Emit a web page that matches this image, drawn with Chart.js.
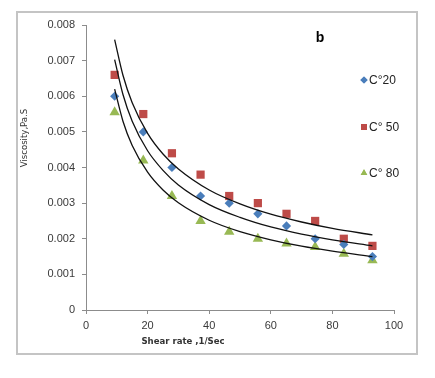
<!DOCTYPE html>
<html>
<head>
<meta charset="utf-8">
<script src="https://cdn.jsdelivr.net/npm/chart.js@4.4.1/dist/chart.umd.min.js"></script>
<style>
  html, body { margin: 0; padding: 0; background: #fff; }
  #wrap { position: relative; width: 435px; height: 378px; }
  #frame { position: absolute; left: 16px; top: 11px; width: 398px; height: 340px; border: 2px solid #c4c4c4; }
  canvas { position: absolute; left: 0; top: 0; }
</style>
</head>
<body>
<div id="wrap">
  <div id="frame"></div>
  <canvas id="chart" width="435" height="378"></canvas>
</div>
<script>
// shear rate (1/s)
const shearRate = [9.3, 18.6, 27.9, 37.2, 46.5, 55.8, 65.1, 74.4, 83.7, 93.0];

// measured viscosity (Pa.s)
const visc20 = [0.0060, 0.0050, 0.0040, 0.0032, 0.0030, 0.0027, 0.00236, 0.0020, 0.00184, 0.0015];
const visc50 = [0.0066, 0.0055, 0.0044, 0.0038, 0.0032, 0.0030, 0.0027, 0.0025, 0.0020, 0.0018];
const visc80 = [0.00555, 0.0042, 0.0032, 0.0025, 0.0022, 0.0020, 0.00187, 0.00177, 0.00158, 0.0014];

// trend curves
const trendX = [9.3, 12, 15, 20, 25, 30, 40, 50, 60, 70, 80, 93];
const trend50 = [0.00759, 0.00659, 0.00582, 0.00496, 0.00438, 0.00396, 0.00337, 0.00298, 0.00269, 0.00247, 0.00229, 0.00211];
const trend20 = [0.00703, 0.00605, 0.00530, 0.00447, 0.00392, 0.00351, 0.00296, 0.00260, 0.00233, 0.00213, 0.00197, 0.00180];
const trend80 = [0.00620, 0.00530, 0.00462, 0.00387, 0.00337, 0.00301, 0.00252, 0.00220, 0.00197, 0.00179, 0.00165, 0.00150];

const xTicks = [0, 20, 40, 60, 80, 100];
const yTicks = [0, 0.001, 0.002, 0.003, 0.004, 0.005, 0.006, 0.007, 0.008];

const legendNames = ['C\u00b020', 'C\u00b0 50', 'C\u00b0 80'];

const BLUE = '#4a7ebb';
const RED = '#be4b48';
const GREEN = '#98b954';

function pts(xs, ys) {
  return xs.map((x, i) => ({ x: x, y: ys[i] }));
}

function trendSet(ys) {
  return {
    type: 'line',
    data: pts(trendX, ys),
    borderColor: '#111',
    borderWidth: 1.3,
    pointRadius: 0,
    fill: false,
    cubicInterpolationMode: 'monotone',
    order: 1
  };
}

function markerSet(ys, color, style, r) {
  return {
    type: 'scatter',
    data: pts(shearRate, ys),
    backgroundColor: color,
    borderColor: color,
    pointStyle: style,
    pointRadius: r,
    pointHoverRadius: r,
    borderWidth: 0,
    order: 2
  };
}

// legend, "b" label and axis titles
const extras = {
  id: 'extras',
  afterDraw(chart) {
    const ctx = chart.ctx;
    ctx.save();
    const marks = [
      { c: BLUE, s: 'rectRot', r: 3.6, y: 80 },
      { c: RED, s: 'rect', r: 4.2, y: 127 },
      { c: GREEN, s: 'triangle', r: 3.8, y: 173 }
    ];
    marks.forEach((m, i) => {
      ctx.fillStyle = m.c;
      Chart.helpers.drawPoint(ctx, { pointStyle: m.s, radius: m.r, borderWidth: 0 }, 364, m.y);
      ctx.fill();
      ctx.fillStyle = '#222';
      ctx.font = '12px "Liberation Sans", Arial, sans-serif';
      ctx.textBaseline = 'middle';
      ctx.textAlign = 'left';
      ctx.fillText(legendNames[i], 369, m.y + 1);
    });

    ctx.fillStyle = '#000';
    ctx.font = 'bold 14px "Liberation Sans", Arial, sans-serif';
    ctx.textAlign = 'center';
    ctx.fillText('b', 320, 38);

    ctx.fillStyle = '#333';
    ctx.font = 'bold 9.5px "DejaVu Sans Condensed", "Liberation Sans", sans-serif';
    ctx.fillText('Shear rate ,1/Sec', 183, 342);

    ctx.translate(25, 138);
    ctx.rotate(-Math.PI / 2);
    ctx.font = '9.5px "DejaVu Sans Condensed", "Liberation Sans", sans-serif';
    ctx.fillText('Viscosity,Pa.S', 0, 0);
    ctx.restore();
  }
};

new Chart(document.getElementById('chart'), {
  data: {
    datasets: [
      trendSet(trend50),
      trendSet(trend20),
      trendSet(trend80),
      markerSet(visc20, BLUE, 'rectRot', 4.6),
      markerSet(visc50, RED, 'rect', 5.8),
      markerSet(visc80, GREEN, 'triangle', 6)
    ]
  },
  options: {
    responsive: false,
    animation: false,
    events: [],
    layout: { padding: { left: 0, right: 41, top: 25, bottom: 0 } },
    plugins: { legend: { display: false }, tooltip: { enabled: false } },
    scales: {
      x: {
        type: 'linear',
        min: 0,
        max: 100,
        afterFit: s => { s.height = 68; },
        afterBuildTicks: s => { s.ticks = xTicks.map(v => ({ value: v })); },
        border: { color: '#8c8c8c', width: 1 },
        grid: { drawOnChartArea: false, tickLength: 4, color: '#8c8c8c' },
        ticks: { color: '#3a3a3a', padding: 5, maxRotation: 0, font: { family: '"Liberation Sans", Arial, sans-serif', size: 11 } }
      },
      y: {
        type: 'linear',
        min: 0,
        max: 0.008,
        afterFit: s => { s.width = 86; },
        afterBuildTicks: s => { s.ticks = yTicks.map(v => ({ value: v })); },
        border: { color: '#8c8c8c', width: 1 },
        grid: { drawOnChartArea: false, tickLength: 4, color: '#8c8c8c' },
        ticks: {
          color: '#3a3a3a',
          padding: 7,
          font: { family: '"Liberation Sans", Arial, sans-serif', size: 11 },
          callback: v => (v === 0 ? '0' : v.toFixed(3))
        }
      }
    }
  },
  plugins: [extras]
});
</script>
</body>
</html>
